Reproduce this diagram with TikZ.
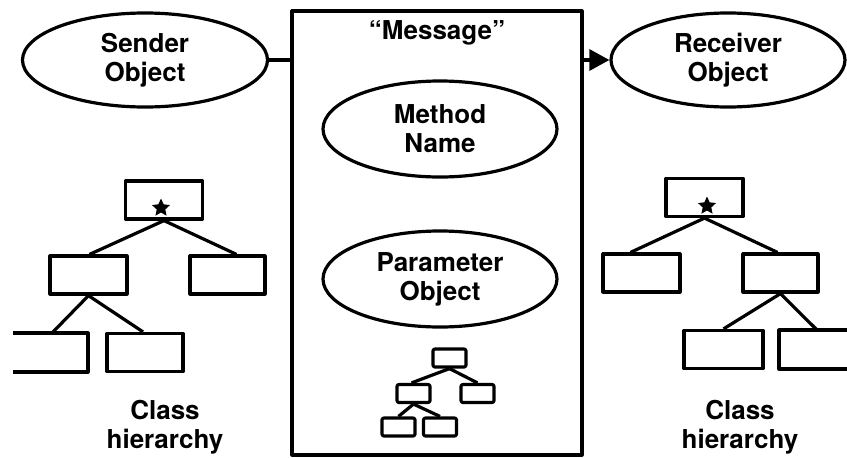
\documentclass[tikz,border=0pt]{standalone}
\usepackage{fontspec}
\setmainfont{TeX Gyre Heros}
\usetikzlibrary{shapes.geometric,arrows.meta}

\tikzset{
  ink/.style={line width=3.2pt, line join=round},
  oval/.style={ink, draw, ellipse, inner sep=0pt, align=center,
    font=\bfseries\fontsize{26}{29}\selectfont},
  label/.style={align=center, font=\bfseries\fontsize{26}{29}\selectfont},
  cls/.style={ink, draw, rectangle, inner sep=0pt,
    minimum width=#1, minimum height=38pt},
  cls/.default=77pt,
  mini/.style={ink, draw, rectangle, rounded corners=2pt, inner sep=0pt,
    minimum width=33pt, minimum height=18pt},
  tie/.style={ink},
  mark star/.style={star, star points=5, star point ratio=2.1, fill=black,
    inner sep=0pt, minimum size=19pt}
}

\begin{document}
\begin{tikzpicture}[x=1pt, y=-1pt]
\useasboundingbox (0,0) rectangle (847,458);

% message box with its contents
\node[ink, draw, minimum width=290pt, minimum height=444pt, inner sep=0pt]
  (msg) at (437,233) {};
\node[label] (msgtitle) at (437,33) {“Message”};
\node[oval, minimum width=234pt, minimum height=96pt] (meth) at (440,129)
  {Method\\Name};
\node[oval, minimum width=234pt, minimum height=96pt] (param) at (440,279)
  {Parameter\\Object};

% sender and receiver objects
\node[oval, minimum width=245pt, minimum height=94pt] (snd) at (145,60)
  {Sender\\Object};
\node[oval, minimum width=234pt, minimum height=94pt] (rcv) at (728,60)
  {Receiver\\Object};

\draw[tie] (snd.east) -- (snd.east -| msg.west);
\draw[tie, -{Triangle[length=20pt, width=21pt]}] (msg.east |- rcv.west) -- (rcv.west);

% small parameter tree
\node[mini] (p0) at (449.5,358) {};
\node[mini] (p1) at (413.5,393.5) {};
\node[mini] (p2) at (477.5,393.5) {};
\node[mini] (p3) at (398.5,427) {};
\node[mini] (p4) at (440,427) {};
\draw[tie] (p0.south) -- ([xshift=-2pt]p1.north);
\draw[tie] (p0.south) -- (p2.north);
\draw[tie] (p1.south) -- (p3.north);
\draw[tie] (p1.south) -- (p4.north);

% sender class hierarchy
\node[cls] (l0) at (164,200) {};
\node[mark star] (lstar) at (161,208) {};
\node[cls] (l1) at (88.5,275) {};
\node[cls=75pt] (l2) at (227.5,275) {};
\node[cls=76pt] (l4) at (145,352.5) {};
\coordinate (l3) at (52,333);
\draw[ink] (13,333) -- (88,333) -- (88,372) -- (13,372);
\draw[tie] (l0.south) -- ([xshift=1pt]l1.north);
\draw[tie] (l0.south) -- ([xshift=9pt]l2.north);
\draw[tie] (l1.south) -- (l3);
\draw[tie] (l1.south) -- ([xshift=-2pt]l4.north);
\node[label] (lcap) at (165,427) {Class\\hierarchy};

% receiver class hierarchy
\node[cls] (r0) at (704.5,197.5) {};
\node[mark star] (rstar) at (707,206) {};
\node[cls] (r1) at (641.5,273) {};
\node[cls=75pt] (r2) at (780.5,273) {};
\node[cls=79pt] (r3) at (723.5,349.5) {};
\coordinate (r4) at (817,330);
\draw[ink] (847,330) -- (779,330) -- (779,369) -- (847,369);
\draw[tie] (r0.south) -- ([xshift=-11pt]r1.north);
\draw[tie] (r0.south) -- ([xshift=-3pt]r2.north);
\draw[tie] (r2.south) -- (r3.north);
\draw[tie] (r2.south) -- (r4);
\node[label] (rcap) at (740,427) {Class\\hierarchy};
\end{tikzpicture}
\end{document}
